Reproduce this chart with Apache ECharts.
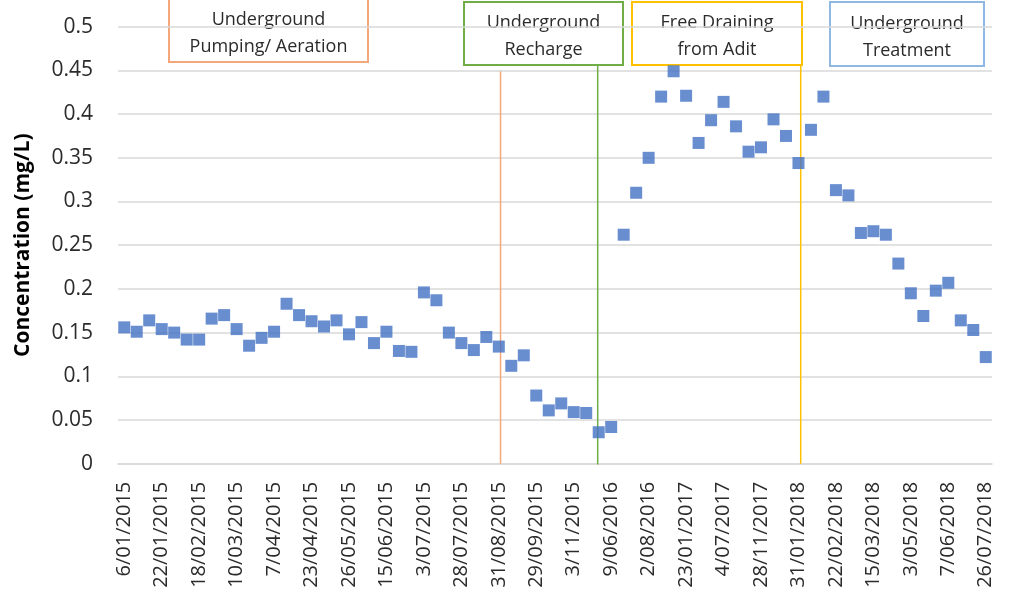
<!DOCTYPE html>
<html>
<head>
<meta charset="utf-8">
<script src="https://cdn.jsdelivr.net/npm/echarts@6/dist/echarts.min.js"></script>
<style>
    html, body { margin: 0; padding: 0; background: #fff; }
    #chart { width: 1010px; height: 609px; }
</style>
</head>
<body>
<div id="chart"></div>
<script>
    // tick labels, one every third sample
    var tickLabels = ['6/01/2015', '22/01/2015', '18/02/2015', '10/03/2015', '7/04/2015', '23/04/2015',
        '26/05/2015', '15/06/2015', '3/07/2015', '28/07/2015', '31/08/2015', '29/09/2015', '3/11/2015',
        '9/06/2016', '2/08/2016', '23/01/2017', '4/07/2017', '28/11/2017', '31/01/2018', '22/02/2018',
        '15/03/2018', '3/05/2018', '7/06/2018', '26/07/2018'];

    // concentration (mg/L)
    var concentration = [
        0.156, 0.151, 0.164, 0.154, 0.150, 0.142, 0.142, 0.166, 0.170, 0.154,
        0.135, 0.144, 0.151, 0.183, 0.170, 0.163, 0.157, 0.164, 0.148, 0.162,
        0.138, 0.151, 0.129, 0.128, 0.196, 0.187, 0.150, 0.138, 0.130, 0.145,
        0.134, 0.112, 0.124, 0.078, 0.061, 0.069, 0.059, 0.058, 0.036, 0.042,
        0.262, 0.310, 0.350, 0.420, 0.449, 0.421, 0.367, 0.393, 0.414, 0.386,
        0.357, 0.362, 0.394, 0.375, 0.344, 0.382, 0.420, 0.313, 0.307, 0.264,
        0.266, 0.262, 0.229, 0.195, 0.169, 0.198, 0.207, 0.164, 0.153, 0.122
    ];

    // phase boundaries (sample index) and how high their lines reach
    var phaseNames = ['Underground\nPumping/ Aeration', 'Underground\nRecharge', 'Free Draining\nfrom Adit', 'Underground\nTreatment'];
    var boundaryAt = [30.14, 37.92, 54.18];
    var boundaryTop = [0.449, 0.457, 0.457];
    var boundaryBottom = [0, -0.003, 0];

    var yTicks = [0, 0.05, 0.1, 0.15, 0.2, 0.25, 0.3, 0.35, 0.4, 0.45, 0.5];

    var phaseColors = ['#F4A77A', '#70AD47', '#FFC000', '#8FB8E3'];
    var FONT = '"Open Sans", sans-serif';
    var TEXT = '#2b2b2b';

    var categories = concentration.map(function (v, i) {
        return i % 3 === 0 ? tickLabels[i / 3] : '';
    });

    // annotation boxes at the top
    var boxes = [
        {x: 168, y: -3, w: 199, h: 64},
        {x: 463, y: 1, w: 159, h: 63},
        {x: 631, y: 1, w: 170, h: 63},
        {x: 829, y: 1, w: 154, h: 64}
    ];

    var graphics = boxes.map(function (b, i) {
        return {
            type: 'group',
            left: b.x,
            top: b.y,
            children: [
                {
                    type: 'rect',
                    shape: {x: 0, y: 0, width: b.w, height: b.h},
                    style: {fill: '#fff', stroke: phaseColors[i], lineWidth: 2}
                },
                {
                    type: 'text',
                    x: b.w / 2,
                    y: b.h / 2 + 3,
                    style: {
                        text: phaseNames[i],
                        font: '18px ' + FONT,
                        fill: TEXT,
                        align: 'center',
                        verticalAlign: 'middle',
                        lineHeight: 27
                    }
                }
            ]
        };
    });

    var boundarySeries = boundaryAt.map(function (x, i) {
        return {
            type: 'line',
            xAxisIndex: 1,
            data: [[x, boundaryBottom[i]], [x, boundaryTop[i]]],
            showSymbol: false,
            silent: true,
            lineStyle: {color: phaseColors[i], width: 1.5},
            z: 1
        };
    });

    var chart = echarts.init(document.getElementById('chart'));

    var option = {
        animation: false,
        grid: {
            left: 118,
            right: 18,
            top: 26.7,
            bottom: 145.3
        },
        xAxis: [
            {
                type: 'category',
                data: categories,
                boundaryGap: true,
                axisLine: {lineStyle: {color: '#D9D9D9', width: 1.5}},
                axisTick: {show: false},
                axisLabel: {
                    interval: 2,
                    rotate: 90,
                    margin: 18,
                    color: TEXT,
                    fontSize: 20,
                    fontFamily: FONT
                },
                splitLine: {show: false}
            },
            {
                type: 'value',
                min: -0.5,
                max: concentration.length - 0.5,
                show: false
            }
        ],
        yAxis: {
            type: 'value',
            min: yTicks[0],
            max: yTicks[yTicks.length - 1],
            interval: 0.05,
            name: 'Concentration (mg/L)',
            nameLocation: 'middle',
            nameGap: 84,
            nameTextStyle: {
                fontSize: 21,
                fontWeight: 'bold',
                color: '#000',
                fontFamily: FONT
            },
            axisLine: {show: false},
            axisTick: {show: false},
            axisLabel: {
                margin: 25,
                color: TEXT,
                fontSize: 21,
                fontFamily: FONT
            },
            splitLine: {lineStyle: {color: '#D9D9D9', width: 1.5}}
        },
        graphic: graphics,
        series: [
            {
                type: 'scatter',
                symbol: 'rect',
                symbolSize: 12,
                itemStyle: {color: '#4472C4'},
                data: concentration.map(function (v, i) { return [i, v]; }),
                z: 3
            }
        ].concat(boundarySeries)
    };

    chart.setOption(option);
</script>
</body>
</html>
